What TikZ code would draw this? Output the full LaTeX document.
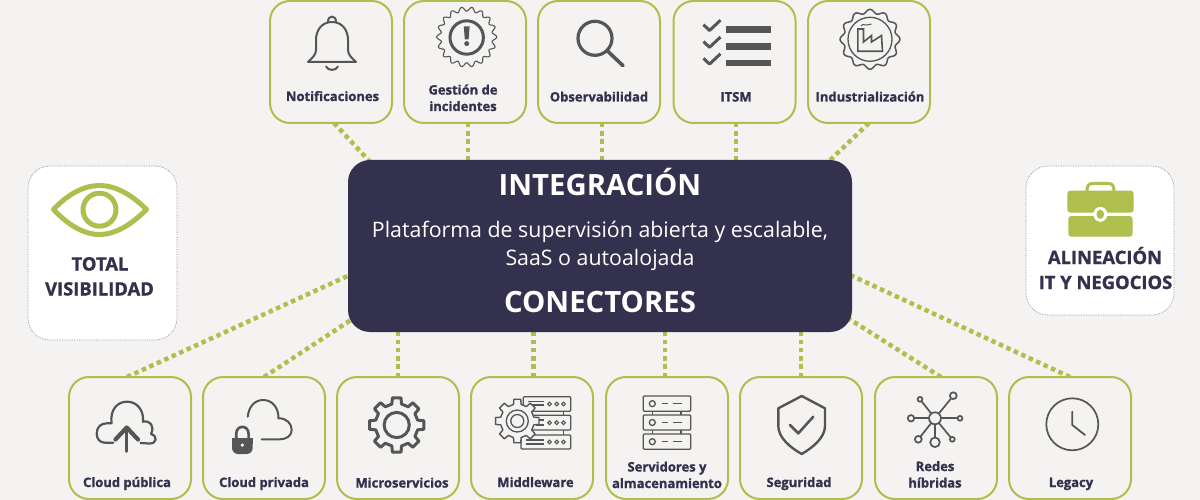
\documentclass[tikz,border=0pt]{standalone}
\usepackage{fontspec}
\usetikzlibrary{backgrounds}
\setmainfont{Open Sans}
\newfontfamily\xb{Open Sans}[BoldFeatures={FakeBold=1.2}]
\definecolor{bgc}{HTML}{F4F3F1}
\definecolor{grn}{HTML}{AFBF4E}
\definecolor{navy}{HTML}{33314E}
\definecolor{ico}{HTML}{555555}
\definecolor{sideb}{HTML}{8E8DA3}
\tikzset{
  tile/.style={draw=grn,line width=2pt,fill=bgc,rounded corners=20pt,minimum width=122pt,minimum height=122pt,inner sep=0pt,outer sep=0pt},
  sidebox/.style={draw=sideb,line width=0.7pt,densely dotted,fill=white,rounded corners=22pt,inner sep=0pt,outer sep=0pt},
  hubbox/.style={fill=navy,rounded corners=22pt,minimum width=504pt,minimum height=172pt,inner sep=0pt,outer sep=0pt},
  link/.style={draw=grn,line width=4.5pt,dash pattern=on 4.5pt off 3.7pt},
  lab/.style={anchor=base,inner sep=0pt,text=navy,font={\xb\bfseries\fontsize{13}{14}\selectfont}},
  sidelab/.style={anchor=base,inner sep=0pt,text=navy,font={\xb\bfseries\fontsize{18.4}{20}\selectfont}},
  head/.style={anchor=base,inner sep=0pt,text=white,font={\bfseries\fontsize{29.3}{32}\selectfont}},
  body/.style={anchor=base,inner sep=0pt,text=white,font={\fontsize{21.35}{26}\selectfont}},
  icon/.style={draw=ico,line width=#1,line cap=round,line join=round},
  icon/.default=2pt
}
\begin{document}
\begin{tikzpicture}[x=1pt,y=-1pt]
\useasboundingbox (0,0) rectangle (1200,500);
% hub and tiles
\node[hubbox] (hub) at (600,246) {};
\foreach \n/\cx in {n1/331,n2/465,n3/599,n4/734.5,n5/869}
  \node[tile] (\n) at (\cx,62) {};
\foreach \n/\cx in {s1/130,s2/264,s3/398,s4/532,s5/667,s6/801,s7/936,s8/1070}
  \node[tile] (\n) at (\cx,438) {};
\node[sidebox,minimum width=149pt,minimum height=174pt] (left) at (102.5,253) {};
\node[sidebox,minimum width=148pt,minimum height=149pt] (right) at (1100,240.5) {};
% background and connectors
\begin{scope}[on background layer]
\fill[bgc] (0,0) rectangle (1200,500);
\draw[link] ([xshift=3pt]n1.south) -- ([xshift=-228pt,yshift=-4pt]hub.north);
\draw[link] ([xshift=3pt]n2.south) -- ([xshift=3pt]n2.south |- hub.north);
\draw[link] ([xshift=3pt]n3.south) -- ([xshift=3pt]n3.south |- hub.north);
\draw[link] ([xshift=1.5pt]n4.south) -- ([xshift=1.5pt]n4.south |- hub.north);
\draw[link] (n5.south) -- ([xshift=226pt,yshift=-4pt]hub.north);
\draw[link] ([xshift=-3pt]s1.north) -- ([xshift=4pt,yshift=-28pt]hub.west);
\draw[link] (s2.north) -- ([xshift=6pt,yshift=-72pt]hub.west);
\draw[link] (s3.north) -- (s3.north |- hub.south);
\draw[link] ([xshift=1.5pt]s4.north) -- ([xshift=1.5pt]s4.north |- hub.south);
\draw[link] ([xshift=-2pt]s5.north) -- ([xshift=-2pt]s5.north |- hub.south);
\draw[link] (s6.north) -- (s6.north |- hub.south);
\draw[link] ([xshift=5pt]s7.north) -- ([xshift=-6pt,yshift=-71pt]hub.east);
\draw[link] (s8.north) -- ([xshift=-4pt,yshift=-28pt]hub.east);
\end{scope}
% hub text
\node[head] (t1) at (600,196) {INTEGRACIÓN};
\node[body] (t2) at (600,237) {Plataforma de supervisión abierta y escalable,};
\node[body] (t3) at (600,265) {SaaS o autoalojada};
\node[head] (t4) at (600,312) {CONECTORES};
% tile labels
\node[lab] (l1) at (332.5,101) {Notificaciones};
\node[lab] (l2a) at (463,94.5) {Gestión de};
\node[lab] (l2b) at (463,111) {incidentes};
\node[lab] (l3) at (599,101.5) {Observabilidad};
\node[lab] (l4) at (736,101.5) {ITSM};
\node[lab] (l5) at (870,101.5) {Industrialización};
\node[lab] (m1) at (127,487) {Cloud pública};
\node[lab] (m2) at (264,487) {Cloud privada};
\node[lab] (m3) at (402,487.5) {Microservicios};
\node[lab] (m4) at (535.5,487) {Middleware};
\node[lab] (m5a) at (667,471.5) {Servidores y};
\node[lab] (m5b) at (667,488) {almacenamiento};
\node[lab] (m6) at (799,487) {Seguridad};
\node[lab] (m7a) at (935,471) {Redes};
\node[lab] (m7b) at (935,487.5) {híbridas};
\node[lab] (m8) at (1071,487) {Legacy};
\node[sidelab] (sl1) at (100,270.5) {TOTAL};
\node[sidelab] (sl2) at (99.5,295.5) {VISIBILIDAD};
\node[sidelab] (sr1) at (1105,264) {ALINEACIÓN};
\node[sidelab] (sr2) at (1105.5,289) {IT Y NEGOCIOS};
% eye
\draw[grn,line width=5pt,line join=round] (53.5,209.5) .. controls (68,194) and (84,185.5) .. (99.5,185.5) .. controls (115,185.5) and (131,194) .. (146.5,209.5) .. controls (131,225) and (115,234.5) .. (99.5,234.5) .. controls (84,234.5) and (68,225) .. cycle;
\draw[grn,line width=5pt] (99.5,209.7) circle[radius=16.5];
% briefcase
\draw[grn,line width=3pt] (1087,191) .. controls (1087,185) and (1089,183.5) .. (1093,183.5) -- (1108,183.5) .. controls (1112,183.5) and (1114,185) .. (1114,191);
\fill[grn,rounded corners=3pt] (1067.3,190.7) rectangle (1133.7,212.6);
\fill[grn,rounded corners=3pt] (1068.3,216) rectangle (1132.5,236.7);
\fill[white] (1100.3,214.3) ellipse[x radius=7,y radius=7.5];
\fill[grn] (1100.3,214.3) ellipse[x radius=3.8,y radius=4.6];
% bell
\draw[icon=2pt] (332,22) .. controls (321,22) and (316,31) .. (316,40) -- (316,50) .. controls (316,55) and (312,58) .. (308,62) -- (356,62) .. controls (352,58) and (348,55) .. (348,50) -- (348,40) .. controls (348,31) and (343,22) .. cycle;
\draw[icon=2pt] (328,21.5) .. controls (328,15) and (336,15) .. (336,21.5);
\draw[icon=2pt] (326,66.5) .. controls (328,71) and (336,71) .. (338,66.5);
% gear with exclamation mark
\draw[ico,line width=1.1pt] plot[domain=0:360,samples=541] ({466.7+(27.9+2.1*cos(18*\x))*cos(\x)},{37+(27.9+2.1*cos(18*\x))*sin(\x)}) -- cycle;
\draw[ico,line width=3pt] (466.7,37.5) circle[radius=16.7];
\fill[ico] (463.8,26.5) -- (469.6,26.5) -- (468.6,39.5) -- (464.8,39.5) -- cycle;
\fill[ico] (466.7,43.6) circle[radius=2.5];
% magnifier
\draw[icon=3.2pt] (595,38.3) circle[radius=17];
\draw[icon=3.6pt] (607.5,51) -- (623,65.7);
% ITSM
\foreach \yy in {0,16.8,33.6} {
  \draw[icon=3pt,line cap=butt] (703.5,24.7+\yy) -- (709.5,30.5+\yy) -- (720.5,20.2+\yy);
}
\foreach \yy in {26,43,59.7}
  \fill[ico] (726.3,\yy) rectangle (771,\yy+6.6);
% factory gear
\draw[ico,line width=1.5pt] plot[domain=0:360,samples=481] ({870+(28+1.9*cos(12*\x))*cos(\x)},{39.3+(28+1.9*cos(12*\x))*sin(\x)}) -- cycle;
\draw[ico,line width=1.3pt] (870,39.3) circle[radius=22];
\draw[ico,line width=1.6pt,line join=miter] (857.8,51.3) -- (857.8,29) -- (863.5,29) -- (863.5,42) -- (871.5,35.5) -- (871.5,42) -- (881.5,35.5) -- (882.5,51.3) -- cycle;
\draw[ico,line width=1pt] (861,26) .. controls (863,23) and (865,26) .. (867,25) .. controls (869,24) and (870,24) .. (871.5,24);
% cloud public
\draw[icon=2.2pt] (113.3,442.7) -- (105,442.7) .. controls (100,442.7) and (96.7,439) .. (96.7,433.5) .. controls (96.7,427) and (101,423.3) .. (107,423.3) -- (111.5,423.3) .. controls (110,410) and (117,401.7) .. (127,401.7) .. controls (137,401.7) and (144,410) .. (143,421.7) .. controls (150,420) and (155,426) .. (151,434) .. controls (158,436) and (157,444) .. (149,443.5) -- (140.5,443);
\draw[icon=3.4pt] (126.7,451.3) -- (126.7,428);
\draw[icon=4.2pt] (115.5,439.5) -- (126.7,427.5) -- (138,439.5);
% cloud private
\draw[icon=2pt] (247.7,416.7) .. controls (249,406) and (255,400) .. (263.3,400) .. controls (273,400) and (279,409) .. (278.3,418.3) .. controls (286,418) and (291.7,423) .. (291.7,430) .. controls (291.7,436) and (286,439.3) .. (280,439.3) -- (261.7,439.3);
\draw[ico,line width=2.6pt] (236.2,439) -- (236.2,434) .. controls (236.2,424.5) and (248.6,424.5) .. (248.6,434) -- (248.6,439);
\fill[ico,rounded corners=6pt] (232,438) rectangle (252.7,454);
\fill[ico] (232,438) rectangle (252.7,444);
\fill[bgc] (242.3,445) circle[radius=1.8];
% generic gears
\def\gearpath#1#2#3#4#5#6{%
  ({#1+#3*cos(-#5)},{#2+#3*sin(-#5)})
  \foreach \a in {0,45,...,315} {
    -- ({#1+#3*cos(\a-#5)},{#2+#3*sin(\a-#5)})
    -- ({#1+#4*cos(\a-#6)},{#2+#4*sin(\a-#6)})
    -- ({#1+#4*cos(\a+#6)},{#2+#4*sin(\a+#6)})
    -- ({#1+#3*cos(\a+#5)},{#2+#3*sin(\a+#5)})
  } -- cycle}
\draw[ico,line width=3pt,line join=round] \gearpath{396.7}{425}{21.5}{27.5}{13}{9};
\draw[ico,line width=3pt] (396.7,425) circle[radius=12.6];
% middleware
\tikzset{rack/.style={draw=ico,line width=1.3pt,rounded corners=1pt}}
\draw[rack] (523.3,396.7) rectangle (570.7,411.3);
\draw[rack] (530,415.3) rectangle (570.7,430);
\draw[rack] (521,435) rectangle (570.7,449);
\draw[ico,line width=1.3pt] (563.3,411.3) -- (563.3,415.3) (563.3,430) -- (563.3,435);
\foreach \yy in {404,422.7,442} \foreach \xx in {549.5,556.7,563.5}
  \draw[ico,line width=1.1pt] (\xx,\yy) circle[radius=1.9];
\draw[ico,line width=1.2pt] (528,401.5) -- (543.5,401.5) (530,405) -- (543.5,405) (536,420) -- (543.5,420) (536,425) -- (543.5,425) (526,440) -- (543.5,440) (526,444) -- (543.5,444);
\draw[ico,fill=bgc,line width=1.4pt,line join=round] \gearpath{517.3}{421}{17}{22}{13}{9};
\draw[ico,line width=1.3pt] (517.3,421) circle[radius=11];
\draw[ico,line width=1.3pt] (517.3,421) circle[radius=6.5];
% servers
\foreach \ya/\yb in {396/411.3,415/430,434/449.3} {
  \draw[rack] (643.3,\ya) rectangle (690.7,\yb);
  \draw[ico,line width=1.3pt] (652.3,{(\ya+\yb)/2}) circle[radius=3];
  \draw[ico,line width=1.4pt] (662.3,{(\ya+\yb)/2}) -- (668.3,{(\ya+\yb)/2}) (673.3,{(\ya+\yb)/2}) -- (681.7,{(\ya+\yb)/2});
}
\draw[ico,line width=1.3pt] (652.3,411.3) -- (652.3,415) (681,411.3) -- (681,415) (652.3,430) -- (652.3,434) (681,430) -- (681,434);
% shield
\draw[icon=2.4pt] (801.7,396) -- (825,408.3) -- (825,426) .. controls (825,438) and (812,448) .. (801.7,454) .. controls (791,448) and (778.3,438) .. (778.3,426) -- (778.3,408.3) -- cycle;
\draw[icon=2.6pt] (790,425) -- (798.3,433.3) -- (813.3,416.7);
% hybrid network
\foreach \xx/\yy in {953.3/395.7,920/399.3,911/418.3,960/418.3,918.3/439.3,935/442.3,952.3/439.3}
  \draw[ico,line width=1.7pt] (935,418.3) -- (\xx,\yy);
\foreach \xx/\yy/\rr in {953.3/395.7/3.4,920/399.3/2.4,911/418.3/3.2,960/418.3/2.4,918.3/439.3/3.4,935/442.3/4.8,952.3/439.3/2.4,935/418.3/6}
  \draw[ico,fill=bgc,line width=1.7pt] (\xx,\yy) circle[radius=\rr];
% clock
\draw[ico,line width=1.7pt] (1072.3,424.3) circle[radius=26];
\draw[icon=1.8pt] (1072.3,411.7) -- (1072.3,425) -- (1085,435);
\end{tikzpicture}
\end{document}
